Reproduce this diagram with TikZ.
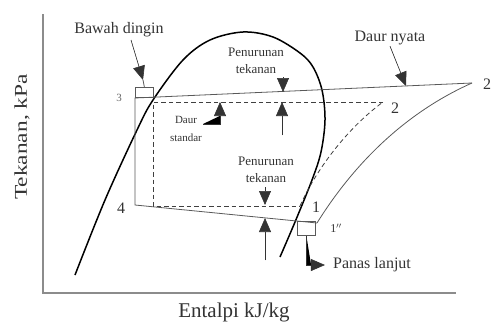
\documentclass[tikz,border=0pt]{standalone}
\usepackage{fontspec}
\setmainfont{Liberation Serif}
\usepackage{graphicx}
\usetikzlibrary{arrows.meta}
\tikzset{
  axisln/.style={draw=black!45,line width=1.6pt},
  domeln/.style={draw=black,line width=1.5pt},
  realln/.style={draw=black!65,line width=0.8pt},
  stdln/.style={draw=black!75,line width=0.8pt,dash pattern=on 4.5pt off 3pt},
  pointer/.style={-{Triangle[length=14pt,width=12pt]},line width=0.6pt,draw=black!80,fill=black},
  bigtxt/.style={font=\fontsize{16}{18}\selectfont,text=black!80,inner sep=1pt},
  smalltxt/.style={font=\fontsize{13}{17}\selectfont,align=center,text=black!80,inner sep=1pt},
  ptlbl/.style={font=\fontsize{16}{18}\selectfont,text=black!80,inner sep=1pt},
  markbox/.style={draw=black!65,line width=0.8pt,inner sep=0pt}
}

\begin{document}
\begin{tikzpicture}[x=1pt,y=-1pt]
\useasboundingbox (0,0) rectangle (494,324);
% axes
\coordinate (O) at (43,293);
\coordinate (ytop) at (43,14);
\coordinate (xend) at (456,293);
\draw[axisln] (ytop) -- (O) -- (xend);
\node[rotate=90,font=\fontsize{18}{20}\selectfont,text=black!80] (ylab) at (22,137) {\scalebox{1.3}[1]{Tekanan, kPa}};
\node[font=\fontsize{21}{23}\selectfont,text=black!80] (xlab) at (234,312) {Entalpi kJ/kg};

% saturation dome
\draw[domeln] plot[smooth,tension=0.55] coordinates {(75,275) (105,200) (137,130) (153,100) (183,60) (210,40) (243,32) (273,37) (300,53) (313,67) (322,90) (325,120) (321,152) (312,180) (295,222) (280,257)};

% cycle points
\coordinate (p3) at (135,98);
\coordinate (p4) at (135,205);
\coordinate (p1s) at (317,223);
\coordinate (p2s) at (472,83);
\coordinate (q3) at (153,102);
\coordinate (q4) at (153,206);
\coordinate (q1) at (300,206);
\coordinate (q2) at (383,102);

% actual cycle
\draw[realln] (p2s) -- (p3) -- (p4) -- (p1s);
\draw[realln] (p1s) .. controls (350,170) and (400,115) .. (p2s);
% standard cycle
\draw[stdln] (q2) -- (q3) -- (q4) -- (q1);
\draw[stdln] (q1) .. controls (315,172) and (345,130) .. (q2);

% subcool / superheat boxes
\node[markbox,minimum width=18pt,minimum height=10pt,anchor=south west] (scbox) at (135,98) {};
\node[markbox,minimum width=18pt,minimum height=14pt,anchor=north west] (shbox) at (297,221) {};

% point labels
\node[font=\fontsize{11}{12}\selectfont,text=black!60] (l3) at (119,98) {3};
\node[ptlbl] (l4) at (121,208) {4};
\node[ptlbl] (l2) at (395,108) {2};
\node[ptlbl] (l2s) at (487,84) {2};
\node[ptlbl] (l1) at (316,207) {1};
\node[font=\fontsize{12}{13}\selectfont,text=black!80] (l1s) at (336,228) {1$''$};

% callouts
\node[bigtxt] (bawah) at (119,30) {Bawah dingin};
\node[bigtxt] (nyata) at (390,38) {Daur nyata};
\node[bigtxt] (panas) at (372,265) {Panas lanjut};
\node[smalltxt] (penA) at (256,61) {Penurunan\\tekanan};
\node[smalltxt] (penB) at (266,170) {Penurunan\\tekanan};
\node[font=\fontsize{11}{18}\selectfont,align=center,text=black!80,inner sep=1pt] (std) at (186,129) {Daur\\standar};

\coordinate (bawahtip) at (143,80);
\coordinate (nyatatip) at (406,86);
\coordinate (stdtip) at (220,102);
\coordinate (upAtail) at (282,135);
\coordinate (upAtip) at (282,102);
\coordinate (dnAtail) at (283,77);
\coordinate (dnAtip) at (283,92);
\coordinate (dnBtail) at (265,187);
\coordinate (dnBtip) at (265,205);
\coordinate (upBtail) at (265,260);
\coordinate (upBtip) at (265,218);

\draw[realln] (scbox.north) -- (bawahtip);
\draw[pointer] (131,40) -- (bawahtip);
\draw[pointer] (nyata.south) -- (nyatatip);
\draw[pointer] ([yshift=5pt]std.east) -| (stdtip);
\draw[pointer] (dnAtail) -- (dnAtip);
\draw[pointer] (upAtail) -- (upAtip);
\draw[pointer] (dnBtail) -- (dnBtip);
\draw[pointer] (upBtail) -- (upBtip);
\draw[pointer] (shbox.south) |- ([xshift=-7pt]panas.west);
\end{tikzpicture}
\end{document}
